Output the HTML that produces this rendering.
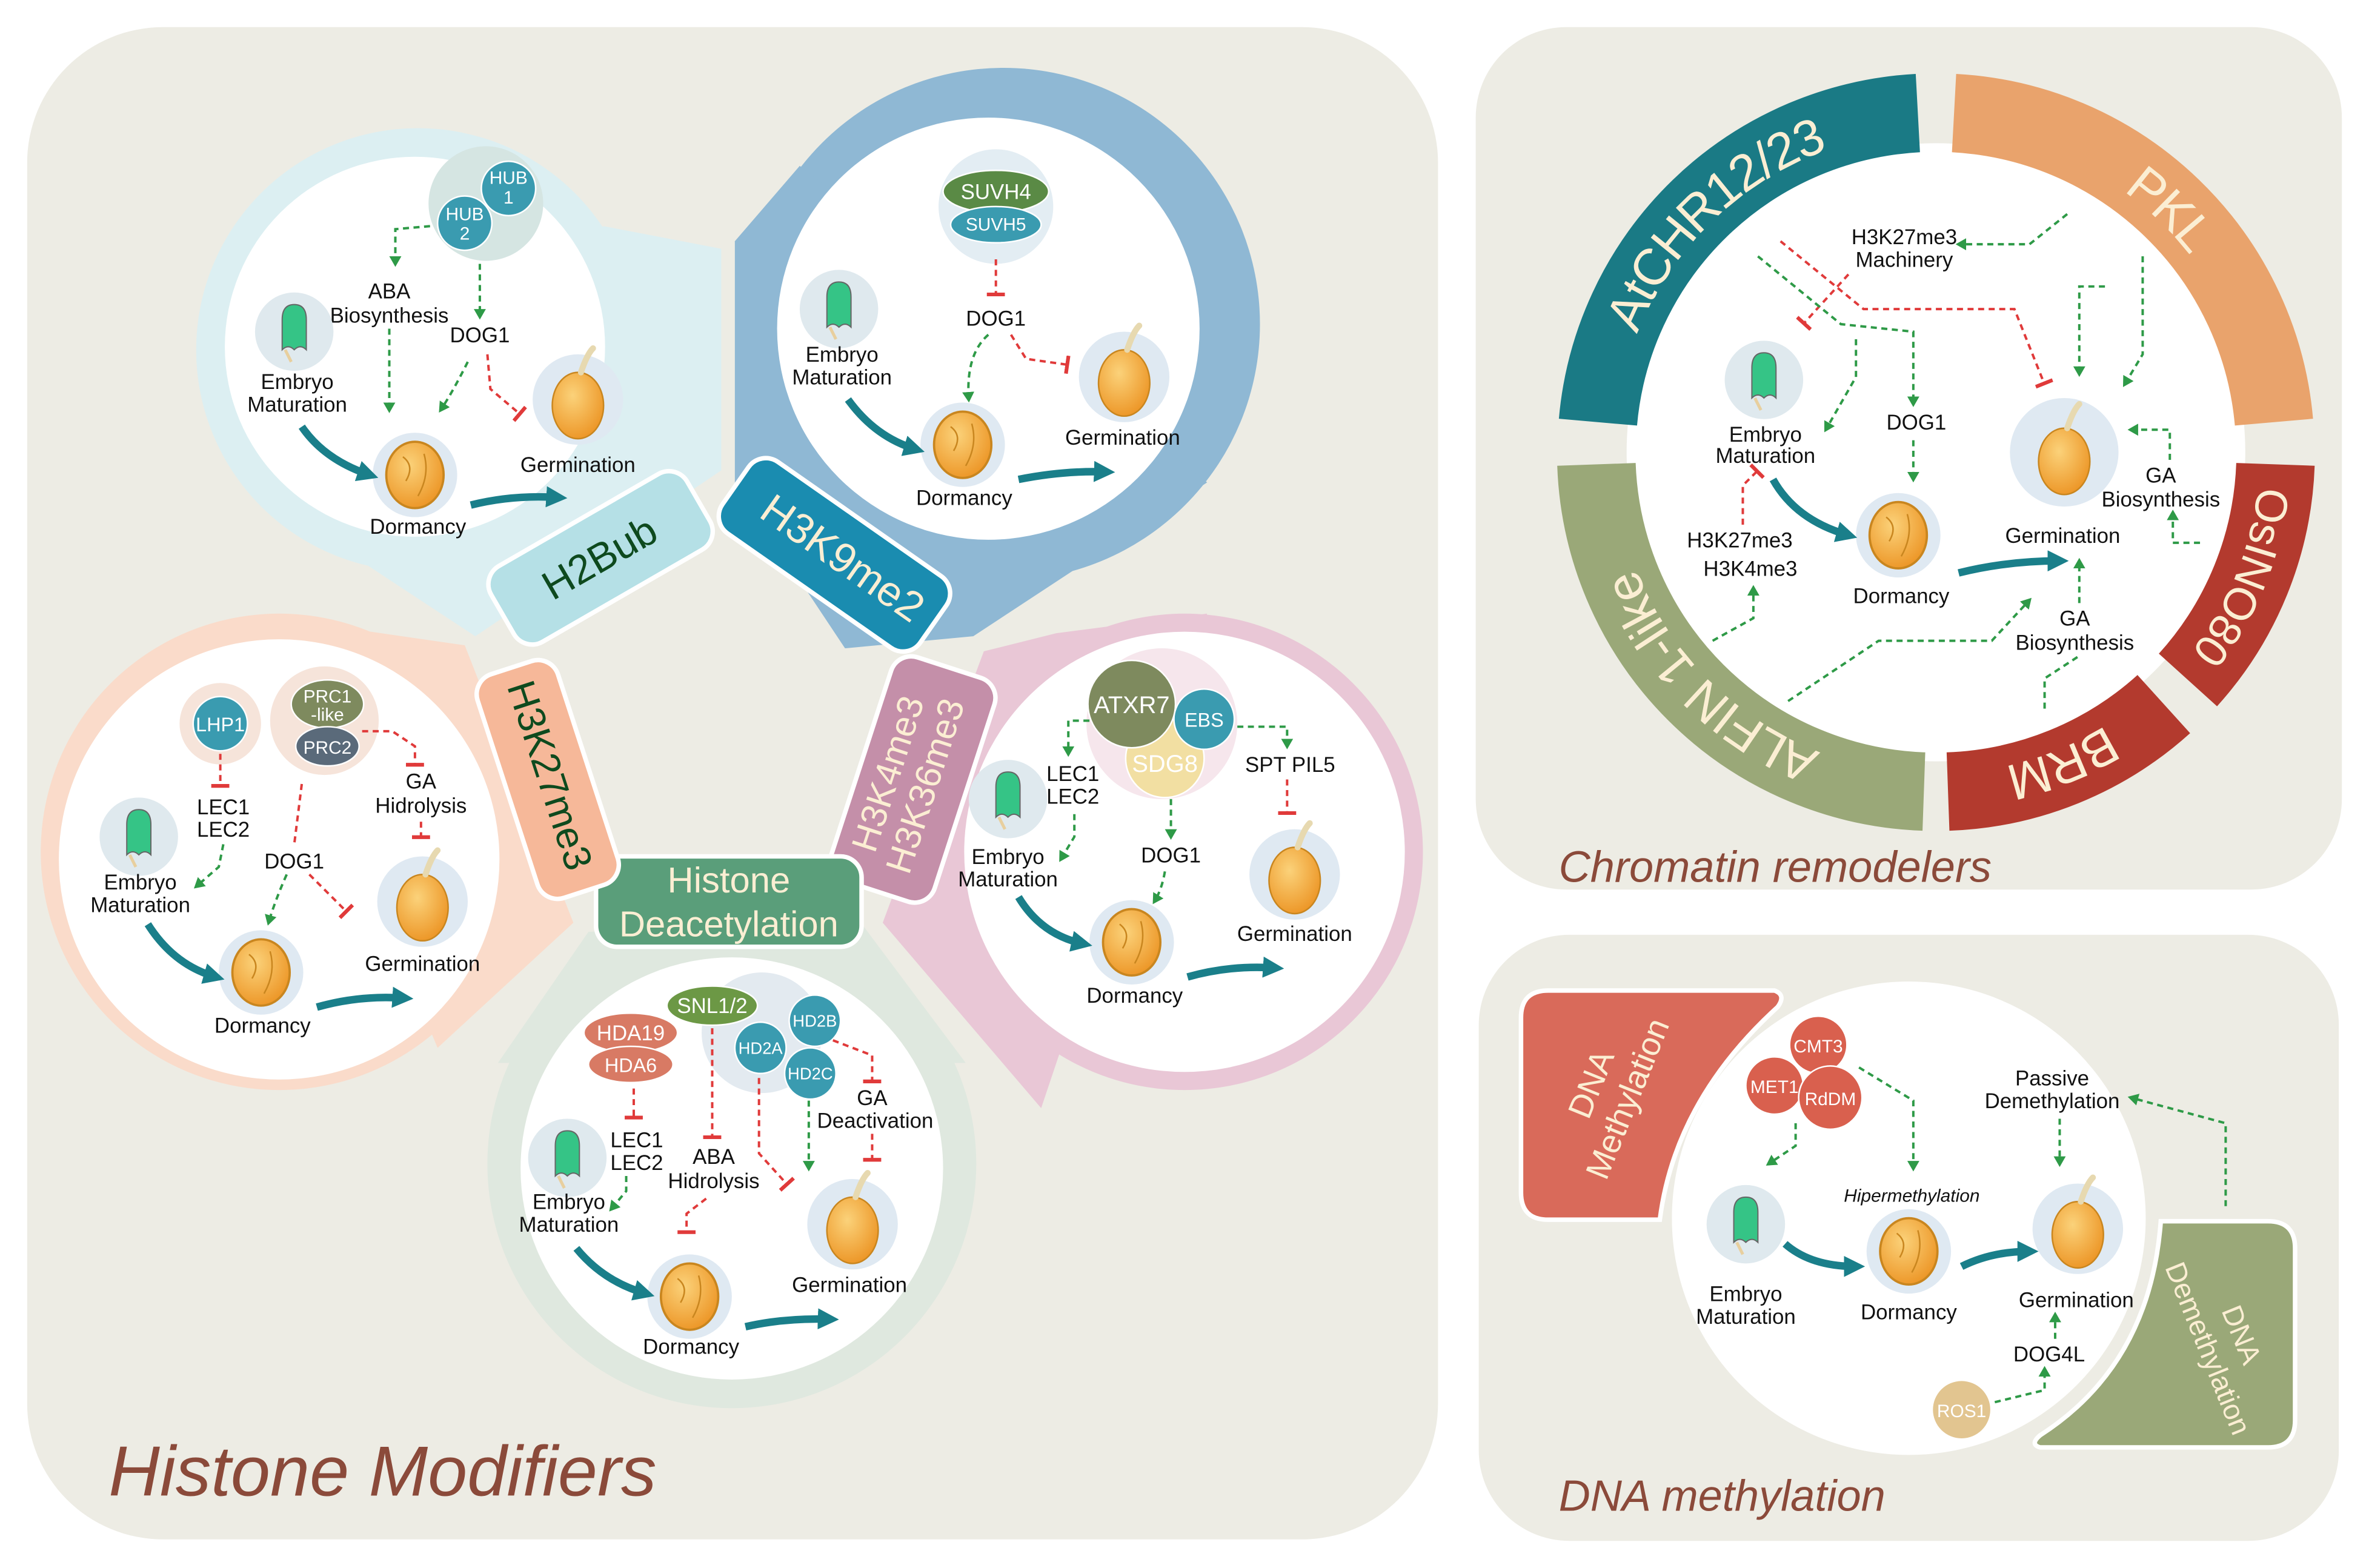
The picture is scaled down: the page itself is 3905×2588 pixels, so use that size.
<!DOCTYPE html>
<html><head><meta charset="utf-8"><style>html,body{margin:0;padding:0;background:#fff}svg{display:block}text{font-family:"Liberation Sans",sans-serif}</style></head>
<body>
<svg width="3905" height="2588" viewBox="0 0 1568 1040" preserveAspectRatio="none" xmlns="http://www.w3.org/2000/svg">
<defs>
<marker id="ga" markerWidth="8" markerHeight="8" refX="5" refY="4" orient="auto" markerUnits="userSpaceOnUse"><path d="M0,0 L7,4 L0,8 z" fill="#2e9a47"/></marker>
<marker id="rt" markerWidth="4" markerHeight="12" refX="2" refY="6" orient="auto" markerUnits="userSpaceOnUse"><rect x="0" y="0" width="2.5" height="12" fill="#e03a3a"/></marker>
<marker id="ta" markerWidth="16" markerHeight="14" refX="8" refY="7" orient="auto" markerUnits="userSpaceOnUse"><path d="M0,0 L14,7 L0,14 z" fill="#1a7f8a"/></marker>
<radialGradient id="sg" cx="40%" cy="35%" r="70%"><stop offset="0" stop-color="#fbd27a"/><stop offset="1" stop-color="#ec9424"/></radialGradient>
<g id="seed"><circle r="30" fill="#dfe9f2"/><ellipse cx="0" cy="4" rx="17" ry="22" fill="url(#sg)" stroke="#c9861f" stroke-width="1"/><path d="M2,-18 Q6,-30 10,-34" stroke="#e7d9b0" stroke-width="4" fill="none" stroke-linecap="round"/></g>
<g id="dorm"><circle r="28" fill="#dfe9f2"/><ellipse rx="19" ry="22" fill="url(#sg)" stroke="#c9861f" stroke-width="1.5"/><path d="M-8,-12 Q0,-6 -6,4 M6,-14 Q10,0 2,14" stroke="#c9861f" fill="none"/></g>
<g id="emb"><circle r="26" fill="#dfe9ee"/><path d="M-8,12 L-8,-8 Q-8,-18 0,-18 Q8,-18 8,-8 L8,12 Q4,8 0,12 Q-4,8 -8,12 z" fill="#35c486" stroke="#666" stroke-width="0.8"/><path d="M-6,12 L-2,20" stroke="#e8cf9e" stroke-width="2"/></g>
</defs>

<rect x="18" y="18" width="935" height="1003" rx="90" fill="#edece4"/>
<rect x="978" y="18" width="574" height="572" rx="60" fill="#edece4"/>
<rect x="980" y="620" width="570" height="402" rx="60" fill="#edece4"/>

<g fill="#dceff2"><circle cx="277" cy="232" r="147"/><polygon points="315,422 478,312 478,165 400,150 160,320"/></g>
<g fill="#8fb8d4"><circle cx="665" cy="215" r="170"/><polygon points="487,320 487,160 530,110 800,320 645,422 560,430"/></g>
<g fill="#e9c7d6"><circle cx="785" cy="565" r="158"/><polygon points="652,432 700,420 800,407 690,735 585,612"/></g>
<g fill="#dfe8df"><circle cx="485" cy="772" r="162"/><polygon points="390,618 572,614 640,705 330,705"/></g>
<g fill="#fadbca"><circle cx="185" cy="565" r="158"/><polygon points="170,408 308,428 380,612 290,695"/></g>
<g fill="#fff">
<circle cx="275" cy="230" r="126"/>
<circle cx="655" cy="218" r="140"/>
<circle cx="785" cy="565" r="146"/>
<circle cx="485" cy="775" r="140"/>
<circle cx="185" cy="570" r="146"/>
</g>

<g stroke="#fff" stroke-width="3">
<rect x="-75" y="-29" width="150" height="58" rx="14" fill="#b5e0e6" transform="translate(398,370) rotate(-30)"/>
<rect x="-80" y="-29" width="160" height="58" rx="14" fill="#1a8cb0" transform="translate(553,368) rotate(35)"/>
<rect x="-78" y="-36" width="156" height="72" rx="14" fill="#c48fa9" transform="translate(605,517) rotate(-72)"/>
<rect x="-88" y="-30" width="176" height="60" rx="14" fill="#5a9e7a" transform="translate(483,598)"/>
<rect x="-78" y="-28" width="156" height="56" rx="14" fill="#f6b899" transform="translate(363,517) rotate(72)"/>
</g>
<text transform="translate(402,378) rotate(-30)" text-anchor="middle" font-size="27" fill="#0e4a1e">H2Bub</text>
<text transform="translate(553,378) rotate(35)" text-anchor="middle" font-size="28" fill="#fbeed3">H3K9me2</text>
<text transform="translate(600,517) rotate(-72)" text-anchor="middle" font-size="24" fill="#fbeed3"><tspan x="0" y="-4">H3K4me3</tspan><tspan x="0" y="22">H3K36me3</tspan></text>
<text x="483" y="592" text-anchor="middle" font-size="24" fill="#fbeed3">Histone</text>
<text x="483" y="621" text-anchor="middle" font-size="24" fill="#fbeed3">Deacetylation</text>
<text transform="translate(356,517) rotate(72)" text-anchor="middle" font-size="26" fill="#0e4a1e">H3K27me3</text>

<g font-size="14" fill="#111" text-anchor="middle">
<circle cx="322" cy="135" r="38" fill="#d5e5e2"/>
<circle cx="337" cy="125" r="18" fill="#3a9bb0" stroke="#fff"/><circle cx="308" cy="148" r="18" fill="#3a9bb0" stroke="#fff"/>
<text x="337" y="122" font-size="12" fill="#fff">HUB</text><text x="337" y="135" font-size="12" fill="#fff">1</text>
<text x="308" y="146" font-size="12" fill="#fff">HUB</text><text x="308" y="159" font-size="12" fill="#fff">2</text>
<text x="258" y="198">ABA</text><text x="258" y="214">Biosynthesis</text><text x="318" y="227">DOG1</text>
<use href="#emb" x="195" y="220"/><text x="197" y="258">Embryo</text><text x="197" y="273">Maturation</text>
<use href="#dorm" x="275" y="315"/><text x="277" y="354">Dormancy</text>
<use href="#seed" x="383" y="265"/><text x="383" y="313">Germination</text>
<path d="M200,283 Q215,305 245,315" stroke="#1a7f8a" stroke-width="5" fill="none" marker-end="url(#ta)"/>
<path d="M312,335 Q340,328 370,330" stroke="#1a7f8a" stroke-width="5" fill="none" marker-end="url(#ta)"/>
<g fill="none" stroke-width="1.6" stroke-dasharray="4 3">
<path d="M285,150 L262,152 L262,175" stroke="#2e9a47" marker-end="url(#ga)"/>
<path d="M318,175 L318,210" stroke="#2e9a47" marker-end="url(#ga)"/>
<path d="M258,218 L258,272" stroke="#2e9a47" marker-end="url(#ga)"/>
<path d="M310,240 Q300,260 292,272" stroke="#2e9a47" marker-end="url(#ga)"/>
<path d="M323,235 L325,258 L345,275" stroke="#e03a3a" marker-end="url(#rt)"/>
</g>

<circle cx="660" cy="137" r="38" fill="#e3edf3"/>
<ellipse cx="660" cy="127" rx="35" ry="14" fill="#5a8a45" stroke="#fff"/><ellipse cx="660" cy="149" rx="30" ry="12" fill="#3a9bb0" stroke="#fff"/>
<text x="660" y="132" fill="#fff">SUVH4</text><text x="660" y="153" font-size="12" fill="#fff">SUVH5</text>
<text x="660" y="216">DOG1</text>
<use href="#emb" x="556" y="205"/><text x="558" y="240">Embryo</text><text x="558" y="255">Maturation</text>
<use href="#dorm" x="638" y="295"/><text x="639" y="335">Dormancy</text>
<use href="#seed" x="745" y="250"/><text x="744" y="295">Germination</text>
<path d="M562,265 Q580,290 607,298" stroke="#1a7f8a" stroke-width="5" fill="none" marker-end="url(#ta)"/>
<path d="M675,318 Q705,312 733,313" stroke="#1a7f8a" stroke-width="5" fill="none" marker-end="url(#ta)"/>
<g fill="none" stroke-width="1.6" stroke-dasharray="4 3">
<path d="M660,172 L660,196" stroke="#e03a3a" marker-end="url(#rt)"/>
<path d="M655,222 Q640,235 642,265" stroke="#2e9a47" marker-end="url(#ga)"/>
<path d="M670,222 L680,238 L708,242" stroke="#e03a3a" marker-end="url(#rt)"/>
</g>

<circle cx="770" cy="480" r="50" fill="#f6e6ec"/>
<circle cx="772" cy="503" r="26" fill="#f2dfa2" stroke="#fff"/>
<circle cx="750" cy="467" r="29" fill="#7e8a5e" stroke="#fff"/>
<circle cx="798" cy="477" r="20" fill="#3a9bb0" stroke="#fff"/>
<text x="750" y="473" font-size="16" fill="#fff">ATXR7</text><text x="798" y="482" font-size="13" fill="#fff">EBS</text><text x="772" y="512" font-size="16" fill="#fff">SDG8</text>
<text x="711" y="518">LEC1</text><text x="711" y="533">LEC2</text><text x="855" y="512">SPT PIL5</text><text x="776" y="572">DOG1</text>
<use href="#emb" x="668" y="530"/><text x="668" y="573">Embryo</text><text x="668" y="588">Maturation</text>
<use href="#dorm" x="750" y="625"/><text x="752" y="665">Dormancy</text>
<use href="#seed" x="858" y="580"/><text x="858" y="624">Germination</text>
<path d="M675,595 Q690,620 718,626" stroke="#1a7f8a" stroke-width="5" fill="none" marker-end="url(#ta)"/>
<path d="M787,648 Q815,640 845,642" stroke="#1a7f8a" stroke-width="5" fill="none" marker-end="url(#ta)"/>
<g fill="none" stroke-width="1.6" stroke-dasharray="4 3">
<path d="M722,478 L708,478 L708,500" stroke="#2e9a47" marker-end="url(#ga)"/>
<path d="M820,482 L853,482 L853,495" stroke="#2e9a47" marker-end="url(#ga)"/>
<path d="M853,517 L853,540" stroke="#e03a3a" marker-end="url(#rt)"/>
<path d="M776,530 L776,555" stroke="#2e9a47" marker-end="url(#ga)"/>
<path d="M772,578 Q770,590 765,598" stroke="#2e9a47" marker-end="url(#ga)"/>
<path d="M712,540 L712,555 L703,570" stroke="#2e9a47" marker-end="url(#ga)"/>
</g>

<ellipse cx="418" cy="685" rx="31" ry="13" fill="#d87a64" stroke="#fff"/><ellipse cx="418" cy="706" rx="28" ry="12" fill="#d87a64" stroke="#fff"/>
<text x="418" y="690" fill="#fff">HDA19</text><text x="418" y="711" font-size="13" fill="#fff">HDA6</text>
<circle cx="505" cy="685" r="40" fill="#e3eaf0"/>
<ellipse cx="472" cy="667" rx="30" ry="13" fill="#6c9845" stroke="#fff"/><text x="472" y="672" fill="#fff">SNL1/2</text>
<circle cx="504" cy="695" r="17" fill="#3a9bb0" stroke="#fff"/><circle cx="540" cy="677" r="17" fill="#3a9bb0" stroke="#fff"/><circle cx="537" cy="712" r="17" fill="#3a9bb0" stroke="#fff"/>
<text x="504" y="699" font-size="11" fill="#fff">HD2A</text><text x="540" y="681" font-size="11" fill="#fff">HD2B</text><text x="537" y="716" font-size="11" fill="#fff">HD2C</text>
<text x="422" y="761">LEC1</text><text x="422" y="776">LEC2</text>
<text x="473" y="772">ABA</text><text x="473" y="788">Hidrolysis</text>
<text x="578" y="733">GA</text><text x="580" y="748">Deactivation</text>
<use href="#emb" x="376" y="768"/><text x="377" y="802">Embryo</text><text x="377" y="817">Maturation</text>
<use href="#dorm" x="457" y="860"/><text x="458" y="898">Dormancy</text>
<use href="#seed" x="565" y="812"/><text x="563" y="857">Germination</text>
<path d="M382,828 Q400,850 428,858" stroke="#1a7f8a" stroke-width="5" fill="none" marker-end="url(#ta)"/>
<path d="M494,880 Q520,874 550,875" stroke="#1a7f8a" stroke-width="5" fill="none" marker-end="url(#ta)"/>
<g fill="none" stroke-width="1.6" stroke-dasharray="4 3">
<path d="M420,722 L420,742" stroke="#e03a3a" marker-end="url(#rt)"/>
<path d="M472,682 L472,755" stroke="#e03a3a" marker-end="url(#rt)"/>
<path d="M503,715 L503,765 L522,786" stroke="#e03a3a" marker-end="url(#rt)"/>
<path d="M536,730 L536,775" stroke="#2e9a47" marker-end="url(#ga)"/>
<path d="M552,690 L578,700 L578,718" stroke="#e03a3a" marker-end="url(#rt)"/>
<path d="M578,752 L578,770" stroke="#e03a3a" marker-end="url(#rt)"/>
<path d="M415,780 L415,790 L405,802" stroke="#2e9a47" marker-end="url(#ga)"/>
<path d="M468,795 L455,805 L455,818" stroke="#e03a3a" marker-end="url(#rt)"/>
</g>

<circle cx="146" cy="480" r="27" fill="#f6e4da"/><circle cx="146" cy="480" r="18" fill="#3a9bb0" stroke="#fff"/><text x="146" y="485" font-size="13" fill="#fff">LHP1</text>
<circle cx="215" cy="478" r="36" fill="#f6e4da"/>
<ellipse cx="217" cy="467" rx="24" ry="16" fill="#7e8a5e" stroke="#fff"/><ellipse cx="217" cy="495" rx="21" ry="13" fill="#5a6a7a" stroke="#fff"/>
<text x="217" y="466" font-size="12" fill="#fff">PRC1</text><text x="217" y="478" font-size="12" fill="#fff">-like</text><text x="217" y="500" font-size="12" fill="#fff">PRC2</text>
<text x="148" y="540">LEC1</text><text x="148" y="555">LEC2</text>
<text x="279" y="523">GA</text><text x="279" y="539">Hidrolysis</text><text x="195" y="576">DOG1</text>
<use href="#emb" x="92" y="555"/><text x="93" y="590">Embryo</text><text x="93" y="605">Maturation</text>
<use href="#dorm" x="173" y="645"/><text x="174" y="685">Dormancy</text>
<use href="#seed" x="280" y="598"/><text x="280" y="644">Germination</text>
<path d="M98,613 Q115,640 143,648" stroke="#1a7f8a" stroke-width="5" fill="none" marker-end="url(#ta)"/>
<path d="M210,668 Q238,660 268,662" stroke="#1a7f8a" stroke-width="5" fill="none" marker-end="url(#ta)"/>
<g fill="none" stroke-width="1.6" stroke-dasharray="4 3">
<path d="M146,500 L146,522" stroke="#e03a3a" marker-end="url(#rt)"/>
<path d="M240,485 L260,485 L275,495 L275,508" stroke="#e03a3a" marker-end="url(#rt)"/>
<path d="M279,545 L279,556" stroke="#e03a3a" marker-end="url(#rt)"/>
<path d="M200,520 L195,560" stroke="#e03a3a" />
<path d="M190,580 Q182,598 178,612" stroke="#2e9a47" marker-end="url(#ga)"/>
<path d="M205,580 L230,605" stroke="#e03a3a" marker-end="url(#rt)"/>
<path d="M148,560 L145,575 L130,588" stroke="#2e9a47" marker-end="url(#ga)"/>
</g>
</g>

<text x="72" y="992" font-size="47" font-style="italic" fill="#8b4a3a">Histone Modifiers</text>

<circle cx="1283" cy="300" r="205" fill="#fff"/>
<g fill="none" stroke-width="52">
<path id="a1" d="M1059,280 A225,225 0 0 1 1271,75" stroke="#1a7a85"/>
<path id="a2" d="M1295,75 A225,225 0 0 1 1507,280" stroke="#e9a36c"/>
<path id="a3" d="M1508,308 A225,225 0 0 1 1450,451" stroke="#b33a2e"/>
<path id="a4" d="M1434,467 A225,225 0 0 1 1291,525" stroke="#b33a2e"/>
<path id="a5" d="M1275,525 A225,225 0 0 1 1058,308" stroke="#9aa878"/>
</g>
<g font-size="34" fill="#fbeed3" dominant-baseline="central" text-anchor="middle">
<text><textPath href="#a1" startOffset="50%">AtCHR12/23</textPath></text>
<text><textPath href="#a2" startOffset="50%">PKL</textPath></text>
<text font-size="30"><textPath href="#a3" startOffset="50%">OsINO80</textPath></text>
<text><textPath href="#a4" startOffset="50%">BRM</textPath></text>
<text><textPath href="#a5" startOffset="50%">ALFIN 1-like</textPath></text>
</g>
<g font-size="14" fill="#111" text-anchor="middle">
<text x="1262" y="162">H3K27me3</text><text x="1262" y="177">Machinery</text>
<text x="1270" y="285">DOG1</text>
<use href="#emb" x="1169" y="252"/><text x="1170" y="293">Embryo</text><text x="1170" y="307">Maturation</text>
<use href="#dorm" x="1258" y="355"/><text x="1260" y="400">Dormancy</text>
<circle cx="1368" cy="300" r="36" fill="#dfe9f2"/><use href="#seed" x="1368" y="302"/><text x="1367" y="360">Germination</text>
<text x="1432" y="320">GA</text><text x="1432" y="336">Biosynthesis</text>
<text x="1375" y="415">GA</text><text x="1375" y="431">Biosynthesis</text>
<text x="1153" y="363">H3K27me3</text><text x="1160" y="382">H3K4me3</text>
<path d="M1175,318 Q1190,345 1225,355" stroke="#1a7f8a" stroke-width="5" fill="none" marker-end="url(#ta)"/>
<path d="M1298,380 Q1330,372 1365,372" stroke="#1a7f8a" stroke-width="5" fill="none" marker-end="url(#ta)"/>
<g fill="none" stroke-width="1.6" stroke-dasharray="4 3">
<path d="M1370,142 L1345,162 L1298,162" stroke="#2e9a47" marker-end="url(#ga)"/>
<path d="M1225,182 L1195,215" stroke="#e03a3a" marker-end="url(#rt)"/>
<path d="M1180,160 L1235,205 L1335,205 L1355,255" stroke="#e03a3a" marker-end="url(#rt)"/>
<path d="M1165,170 L1220,215 L1268,220 L1268,268" stroke="#2e9a47" marker-end="url(#ga)"/>
<path d="M1230,225 L1230,250 L1210,285" stroke="#2e9a47" marker-end="url(#ga)"/>
<path d="M1268,292 L1268,318" stroke="#2e9a47" marker-end="url(#ga)"/>
<path d="M1395,190 L1378,190 L1378,248" stroke="#2e9a47" marker-end="url(#ga)"/>
<path d="M1420,170 L1420,235 L1408,255" stroke="#2e9a47" marker-end="url(#ga)"/>
<path d="M1458,360 L1440,360 L1440,340" stroke="#2e9a47" marker-end="url(#ga)"/>
<path d="M1438,305 L1438,285 L1412,285" stroke="#2e9a47" marker-end="url(#ga)"/>
<path d="M1355,470 L1355,450 L1378,435" stroke="#2e9a47"/>
<path d="M1378,400 L1378,372" stroke="#2e9a47" marker-end="url(#ga)"/>
<path d="M1185,465 L1245,425 L1320,425 L1345,398" stroke="#2e9a47" marker-end="url(#ga)"/>
<path d="M1135,425 L1162,410 L1162,390" stroke="#2e9a47" marker-end="url(#ga)"/>
<path d="M1155,348 L1155,322 L1165,312" stroke="#e03a3a" marker-end="url(#rt)"/>
</g>
</g>
<text x="1033" y="585" font-size="29" font-style="italic" fill="#8b4a3a">Chromatin remodelers</text>

<circle cx="1265" cy="808" r="157" fill="#fff"/>
<path d="M1026,657 L1176,657 Q1184,660 1178,668 Q1110,730 1100,809 L1026,809 Q1008,809 1008,791 L1008,675 Q1008,657 1026,657 z" fill="#d96a5a" stroke="#fff" stroke-width="3"/>
<path d="M1432,810 L1503,810 Q1521,810 1521,828 L1521,942 Q1521,960 1503,960 L1352,960 Q1345,958 1352,952 Q1425,905 1432,810 z" fill="#9aa878" stroke="#fff" stroke-width="3"/>
<text transform="translate(1067,724) rotate(-68)" text-anchor="middle" font-size="22" fill="#fbeed3"><tspan x="0" y="-6">DNA</tspan><tspan x="0" y="20">Methylation</tspan></text>
<text transform="translate(1474,890) rotate(68)" text-anchor="middle" font-size="19" fill="#fbeed3"><tspan x="0" y="-6">DNA</tspan><tspan x="0" y="18">Demethylation</tspan></text>
<g font-size="14" fill="#111" text-anchor="middle">
<circle cx="1205" cy="693" r="19" fill="#d9604e" stroke="#fff"/><circle cx="1176" cy="720" r="19" fill="#d9604e" stroke="#fff"/><circle cx="1213" cy="728" r="21" fill="#d9604e" stroke="#fff"/>
<text x="1205" y="698" font-size="12" fill="#fff">CMT3</text><text x="1176" y="725" font-size="12" fill="#fff">MET1</text><text x="1213" y="733" font-size="12" fill="#fff">RdDM</text>
<text x="1360" y="720">Passive</text><text x="1360" y="735">Demethylation</text>
<text x="1267" y="797" font-size="12" font-style="italic">Hipermethylation</text>
<use href="#emb" x="1157" y="812"/><text x="1157" y="863">Embryo</text><text x="1157" y="878">Maturation</text>
<use href="#dorm" x="1265" y="830"/><text x="1265" y="875">Dormancy</text>
<use href="#seed" x="1377" y="815"/><text x="1376" y="867">Germination</text>
<text x="1358" y="903">DOG4L</text>
<circle cx="1300" cy="935" r="19" fill="#e2c590"/><text x="1300" y="940" font-size="12" fill="#fff">ROS1</text>
<path d="M1183,825 Q1200,840 1230,840" stroke="#1a7f8a" stroke-width="5" fill="none" marker-end="url(#ta)"/>
<path d="M1300,840 Q1320,830 1345,830" stroke="#1a7f8a" stroke-width="5" fill="none" marker-end="url(#ta)"/>
<g fill="none" stroke-width="1.6" stroke-dasharray="4 3">
<path d="M1232,708 L1268,730 L1268,775" stroke="#2e9a47" marker-end="url(#ga)"/>
<path d="M1190,745 L1190,760 L1172,772" stroke="#2e9a47" marker-end="url(#ga)"/>
<path d="M1475,800 L1475,745 L1412,728" stroke="#2e9a47" marker-end="url(#ga)"/>
<path d="M1365,742 L1365,772" stroke="#2e9a47" marker-end="url(#ga)"/>
<path d="M1322,930 L1355,922 L1355,908" stroke="#2e9a47" marker-end="url(#ga)"/>
<path d="M1362,888 L1362,872" stroke="#2e9a47" marker-end="url(#ga)"/>
</g>
</g>
<text x="1033" y="1002" font-size="29" font-style="italic" fill="#8b4a3a">DNA methylation</text>
</svg>
</body></html>
